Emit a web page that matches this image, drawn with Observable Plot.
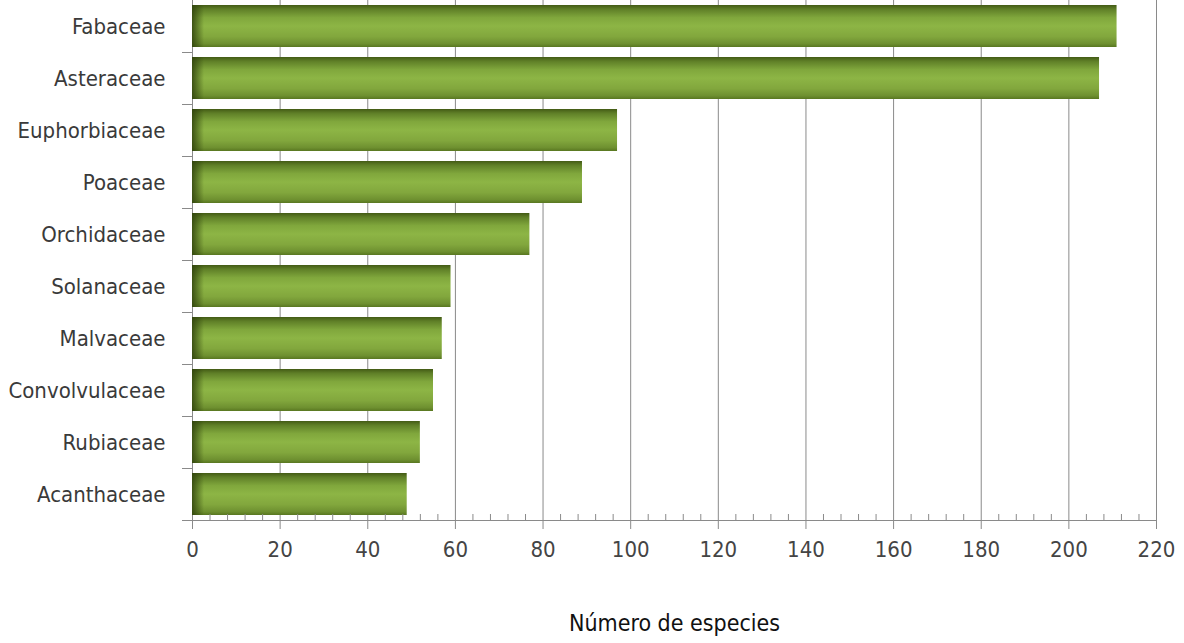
<!DOCTYPE html>
<html><head><meta charset="utf-8">
<script src="https://cdn.jsdelivr.net/npm/d3@7"></script>
<script src="https://cdn.jsdelivr.net/npm/@observablehq/plot@0.6"></script>
<style>body{margin:0;background:#fff} svg{display:block}</style>
</head><body><div id="chart"></div>
<script>
const families = ["Fabaceae","Asteraceae","Euphorbiaceae","Poaceae","Orchidaceae","Solanaceae","Malvaceae","Convolvulaceae","Rubiaceae","Acanthaceae"];
const species = [211,207,97,89,77,59,57,55,52,49];
const majorTicks = [0,20,40,60,80,100,120,140,160,180,200,220];
const minorTicks = d3.range(0,221,4).filter(v => v % 20 !== 0);
const xLabel = "Número de especies";

const data = families.map((f,i)=>({family:f, n:species[i]}));

const defsMark = (index, scales, values, dims) => {
  const g = d3.create("svg:g");
  const defs = g.append("defs");
  const v = defs.append("linearGradient").attr("id","barV")
    .attr("x1",0).attr("y1",0).attr("x2",0).attr("y2",1);
  [[0,"#435b15"],[0.1,"#5f7f27"],[0.3,"#80a73c"],[0.5,"#8db545"],[0.75,"#82a73d"],[0.92,"#6e9030"],[1,"#587720"]]
    .forEach(([o,c]) => v.append("stop").attr("offset",o).attr("stop-color",c));
  const x0 = dims.marginLeft;
  const l = defs.append("linearGradient").attr("id","barL")
    .attr("gradientUnits","userSpaceOnUse")
    .attr("x1",x0).attr("y1",0).attr("x2",x0+12).attr("y2",0);
  l.append("stop").attr("offset",0).attr("stop-color","#2f420c").attr("stop-opacity",0.85);
  l.append("stop").attr("offset",1).attr("stop-color","#2f420c").attr("stop-opacity",0);
  return g.node();
};

const font = "'DejaVu Sans Condensed', 'DejaVu Sans', sans-serif";

const chart = Plot.plot({
  width: 1184,
  height: 643,
  marginLeft: 192,
  marginRight: 28,
  marginTop: 0,
  marginBottom: 123,
  style: {fontFamily: font, background: "#fff"},
  x: {domain: [0, 220]},
  y: {domain: families, paddingInner: 0.19, paddingOuter: 0.095},
  marks: [
    Plot.gridX(majorTicks, {stroke: "#8a8a8a", strokeOpacity: 1}),
    Plot.frame({anchor: "left", stroke: "#8a8a8a"}),
    defsMark,
    Plot.barX(data, {x: "n", y: "family", fill: "url(#barV)"}),
    Plot.barX(data, {x: "n", y: "family", fill: "url(#barL)"}),
    Plot.frame({anchor: "bottom", stroke: "#8a8a8a"}),
    Plot.axisX(majorTicks, {tickSize: 9, tickPadding: 12, stroke: "#8a8a8a", fill: "#444", fontSize: 22, label: null}),
    Plot.axisX(minorTicks, {tickSize: 6, dy: -6, text: null, stroke: "#8a8a8a", label: null}),
    Plot.axisY({tickSize: 0, tickPadding: 27, fill: "#3a3a3a", fontSize: 22, label: null}),
    Plot.axisY({tickSize: 10, dy: 26, text: null, stroke: "#8a8a8a", label: null}),
    Plot.text([xLabel], {frameAnchor: "bottom", dy: 110, text: d => d, fontSize: 23, fill: "#111"})
  ]
});
document.getElementById("chart").appendChild(chart);
</script>
</body></html>
